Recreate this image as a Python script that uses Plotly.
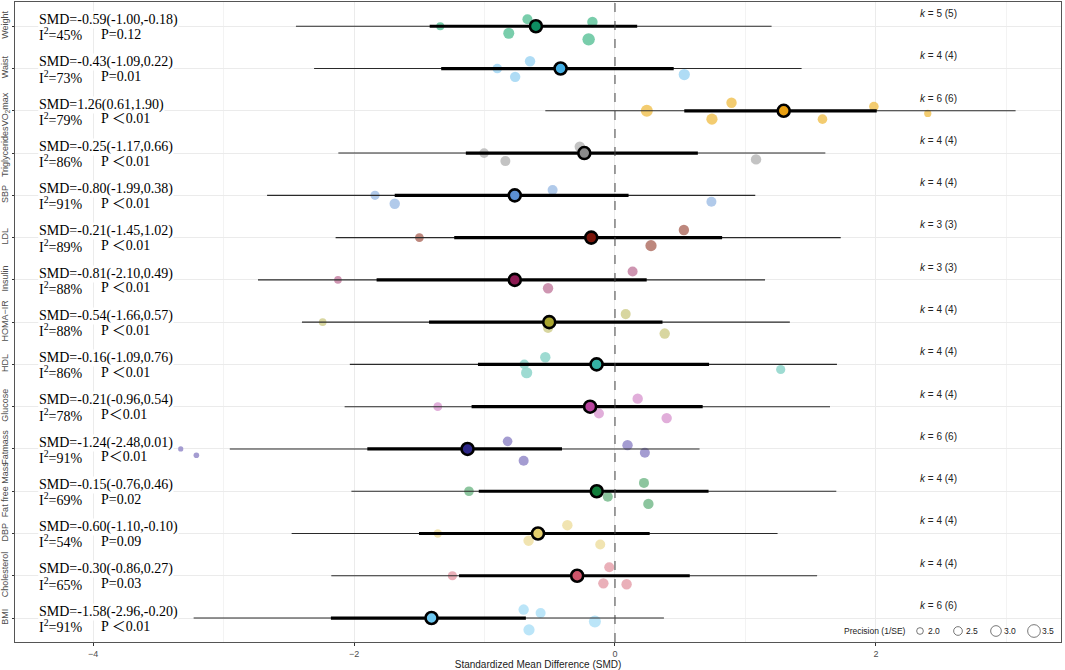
import plotly.graph_objects as go

outcomes = ["Weight", "Waist", "VO<sub>2</sub>max", "Triglycerides", "SBP", "LDL", "Insulin",
            "HOMA\u2212IR", "HDL", "Glucose", "Fatmass", "Fat free Mass", "DBP", "Cholesterol", "BMI"]

mean_est = [-0.606, -0.417, 1.293, -0.235, -0.768, -0.182, -0.768, -0.504, -0.141, -0.191,
            -1.130, -0.140, -0.590, -0.290, -1.406]
ci_lo = [-1.42, -1.332, 0.531, -1.143, -1.688, -1.232, -1.827, -1.425, -1.050, -1.099,
         -1.898, -1.044, -1.502, -1.195, -2.177]
ci_hi = [0.17, 0.45, 2.006, 0.635, 0.104, 0.821, 0.243, 0.364, 0.721, 0.672,
         -0.406, 0.717, 0.266, 0.573, -0.683]
pi_lo = [-2.445, -2.306, -0.534, -2.12, -2.666, -2.141, -2.736, -2.399, -2.032, -2.072,
         -2.952, -2.020, -2.478, -2.174, -3.229]
pi_hi = [1.20, 1.43, 3.07, 1.612, 1.075, 1.730, 1.150, 1.340, 1.701, 1.648,
         0.648, 1.696, 1.246, 1.549, 0.375]

# individual effect sizes, vertical jitter (fraction of row) and precision (1/SE)
es_x = [
    [-1.339, -0.671, -0.814, -0.173, -0.202],
    [-0.902, -0.651, -0.765, 0.531],
    [0.244, 0.893, 0.743, 1.59, 1.984, 2.397],
    [-1.003, -0.840, -0.27, 1.081],
    [-1.839, -1.688, -0.478, 0.739],
    [-1.499, 0.528, 0.276],
    [-2.123, 0.135, -0.513],
    [-2.240, 0.082, 0.381, -0.513],
    [-0.695, -0.534, -0.677, 1.27],
    [-1.358, 0.174, -0.123, 0.396],
    [-3.328, -3.208, -0.823, -0.70, 0.096, 0.229],
    [-1.119, 0.222, -0.055, 0.256],
    [-1.358, -0.365, -0.662, -0.113],
    [-1.246, -0.044, -0.089, 0.089],
    [-4.24, -3.62, -0.700, -0.570, -0.154, -0.659],
]
es_jit = [
    [0.0, 0.165, -0.165, 0.10, -0.31],
    [0.0, 0.173, -0.197, -0.142],
    [0.0, 0.19, -0.197, -0.197, 0.10, -0.063],
    [0.0, -0.19, 0.15, -0.15],
    [0.0, -0.2, 0.126, -0.15],
    [0.0, 0.18, -0.19],
    [0.0, 0.197, -0.197],
    [0.0, 0.19, -0.27, -0.14],
    [0.0, 0.17, -0.197, -0.12],
    [0.0, 0.19, -0.16, -0.27],
    [0.0, -0.15, 0.18, -0.28, 0.09, -0.09],
    [0.0, 0.197, -0.13, -0.30],
    [0.0, 0.197, -0.17, -0.26],
    [0.0, 0.2, -0.18, -0.2],
    [0.0, -0.03, 0.2, 0.12, -0.08, -0.28],
]
es_prec = [
    [2.33, 2.83, 3.08, 2.93, 3.43],
    [2.73, 2.93, 2.93, 3.13],
    [3.33, 2.93, 3.13, 2.73, 2.73, 2.13],
    [2.73, 2.83, 2.93, 2.93],
    [2.63, 2.93, 2.83, 2.83],
    [2.53, 2.93, 3.13],
    [2.23, 2.83, 2.93],
    [2.23, 2.83, 2.93, 2.83],
    [2.73, 2.93, 3.13, 2.63],
    [2.53, 2.93, 2.83, 2.93],
    [1.63, 1.73, 2.73, 2.83, 2.93, 2.83],
    [2.73, 2.83, 2.83, 2.93],
    [2.43, 2.93, 2.93, 2.83],
    [2.63, 2.83, 2.93, 2.93],
    [1.83, 2.13, 2.93, 2.83, 3.33, 3.13],
]

smd_text = ["SMD=-0.59(-1.00,-0.18)", "SMD=-0.43(-1.09,0.22)", "SMD=1.26(0.61,1.90)",
            "SMD=-0.25(-1.17,0.66)", "SMD=-0.80(-1.99,0.38)", "SMD=-0.21(-1.45,1.02)",
            "SMD=-0.81(-2.10,0.49)", "SMD=-0.54(-1.66,0.57)", "SMD=-0.16(-1.09,0.76)",
            "SMD=-0.21(-0.96,0.54)", "SMD=-1.24(-2.48,0.01)", "SMD=-0.15(-0.76,0.46)",
            "SMD=-0.60(-1.10,-0.10)", "SMD=-0.30(-0.86,0.27)", "SMD=-1.58(-2.96,-0.20)"]
i2_vals = [45, 73, 79, 86, 91, 89, 88, 88, 86, 78, 91, 69, 54, 65, 91]
p_text = ["P=0.12", "P=0.01", "P \uff1c0.01", "P \uff1c0.01", "P \uff1c0.01", "P \uff1c0.01",
          "P \uff1c0.01", "P \uff1c0.01", "P \uff1c0.01", "P\uff1c0.01", "P\uff1c0.01",
          "P=0.02", "P=0.09", "P=0.03", "P \uff1c0.01"]
k_vals = [5, 4, 6, 4, 4, 3, 3, 4, 4, 4, 6, 4, 4, 4, 6]

mean_colors = ["#0e8c62", "#45afe4", "#e9a012", "#8a8a8a", "#5b8fd2", "#7a1409", "#8c1a52",
               "#a9a52e", "#35b2a4", "#b8449e", "#2d2788", "#127e3b", "#e5cf6c", "#cf566b", "#6ec8f1"]
point_colors = ["#6ac8a2", "#a6d8f4", "#f2c660", "#bdbdbd", "#a8c4e8", "#b67a6f", "#c98aa8",
                "#d4d196", "#93d7cd", "#dea5d6", "#9a91cc", "#7fbf93", "#f0e1a8", "#e8a7b1", "#b4e2f7"]

legend_prec = [2.0, 2.5, 3.0, 3.5]
legend_labels = ["2.0", "2.5", "3.0", "3.5"]


def prec_size(p):
    return 4 * p - 1.3


W, H = 1065, 670
ML, MR, MT, MB = 15, 4, 2, 28
PW, PH = W - ML - MR, H - MT - MB

n = len(outcomes)
ypos = [n - i for i in range(n)]

fig = go.Figure()

# individual effect sizes
for i in range(n):
    fig.add_trace(go.Scatter(
        x=es_x[i], y=[ypos[i] + j for j in es_jit[i]], mode="markers",
        marker=dict(color=point_colors[i], size=[prec_size(p) for p in es_prec[i]], opacity=0.9,
                    line=dict(width=0)),
        showlegend=False, hoverinfo="skip"))

# prediction intervals
px_, py_ = [], []
for i in range(n):
    px_ += [pi_lo[i], pi_hi[i], None]
    py_ += [ypos[i], ypos[i], None]
fig.add_trace(go.Scatter(x=px_, y=py_, mode="lines", line=dict(color="#2a2a2a", width=1.1),
                         showlegend=False, hoverinfo="skip"))
# confidence intervals
cx_, cy_ = [], []
for i in range(n):
    cx_ += [ci_lo[i], ci_hi[i], None]
    cy_ += [ypos[i], ypos[i], None]
fig.add_trace(go.Scatter(x=cx_, y=cy_, mode="lines", line=dict(color="#000000", width=3.2),
                         showlegend=False, hoverinfo="skip"))
# means
fig.add_trace(go.Scatter(x=mean_est, y=ypos, mode="markers",
                         marker=dict(color=mean_colors, size=12, line=dict(color="black", width=2.6)),
                         showlegend=False, hoverinfo="skip"))

fig.add_shape(type="line", x0=0, x1=0, y0=0, y1=1, xref="x", yref="paper",
              line=dict(color="#444444", width=1, dash="dash"))

# size legend (Precision) drawn as key glyphs inside the panel, bottom right
leg_y_paper = 11 / PH
leg_key_px0 = 920 - ML
leg_step = 38
legfont = dict(family="Liberation Sans, Arial, sans-serif", size=8.5, color="#222222")
fig.add_annotation(x=(leg_key_px0 - 12) / PW, y=leg_y_paper, xref="paper", yref="paper",
                   text="Precision (1/SE)", showarrow=False, xanchor="right", yanchor="middle",
                   font=legfont)
for j, p in enumerate(legend_prec):
    cxp = (leg_key_px0 + j * leg_step) / PW
    r = prec_size(p) / 2
    fig.add_shape(type="circle", xref="paper", yref="paper", xsizemode="pixel", ysizemode="pixel",
                  xanchor=cxp, yanchor=leg_y_paper, x0=-r, x1=r, y0=-r, y1=r,
                  line=dict(color="#555555", width=0.8), fillcolor="rgba(0,0,0,0)")
    fig.add_annotation(x=(leg_key_px0 + j * leg_step + 14) / PW, y=leg_y_paper, xref="paper", yref="paper",
                       text=legend_labels[j], showarrow=False, xanchor="center", yanchor="middle",
                       font=legfont)

serif = "Liberation Serif, Noto Sans CJK SC, Times New Roman, serif"
for i in range(n):
    fig.add_annotation(x=-4.42, y=ypos[i], yshift=6.3, text=smd_text[i], showarrow=False,
                       xanchor="left", yanchor="middle", bgcolor="white", borderpad=0,
                       font=dict(family=serif, size=14, color="black"))
    fig.add_annotation(x=-4.42, y=ypos[i], yshift=-8, text=f"I<sup>2</sup>={i2_vals[i]}%",
                       showarrow=False, xanchor="left", yanchor="middle", bgcolor="white",
                       borderpad=0, font=dict(family=serif, size=14, color="black"))
    fig.add_annotation(x=-3.95, y=ypos[i], yshift=-8, text=p_text[i],
                       showarrow=False, xanchor="left", yanchor="middle", bgcolor="white",
                       borderpad=0, font=dict(family=serif, size=14, color="black"))
    fig.add_annotation(x=2.48, y=ypos[i] + 0.3, text=f"<i>k</i> = {k_vals[i]} ({k_vals[i]})",
                       showarrow=False, xanchor="center", yanchor="middle",
                       font=dict(family="Liberation Sans, Arial, sans-serif", size=10, color="#222222"))

fig.update_layout(
    width=W, height=H,
    margin=dict(l=ML, r=MR, t=MT, b=MB),
    plot_bgcolor="white", paper_bgcolor="white",
    font=dict(family="Liberation Sans, Arial, sans-serif", size=10, color="#4d4d4d"),
    xaxis=dict(range=[-4.598, 3.418], tickvals=[-4, -2, 0, 2], ticktext=["\u22124", "\u22122", "0", "2"],
               showgrid=True, gridcolor="#ebebeb", gridwidth=1,
               minor=dict(tickvals=[-3, -1, 1, 3], showgrid=True, gridcolor="#f3f3f3", gridwidth=0.6),
               zeroline=False, ticks="outside", ticklen=3, tickcolor="#333333",
               tickfont=dict(size=9, color="#4d4d4d"),
               title=dict(text="Standardized Mean Difference (SMD)", font=dict(size=10, color="#222222"),
                          standoff=2),
               showline=True, linecolor="#555555", mirror=True, linewidth=1),
    yaxis=dict(range=[0.433, 15.574], tickvals=ypos, ticktext=outcomes, tickangle=-90,
               showgrid=True, gridcolor="#ebebeb", gridwidth=1, zeroline=False,
               ticks="outside", ticklen=2.5, tickcolor="#333333",
               tickfont=dict(size=9, color="#4d4d4d"),
               showline=True, linecolor="#555555", mirror=True, linewidth=1, automargin=False),
    showlegend=False,
)

fig.write_html("out.html", config={"displayModeBar": False},
               post_script="document.body.style.margin='0px';")
